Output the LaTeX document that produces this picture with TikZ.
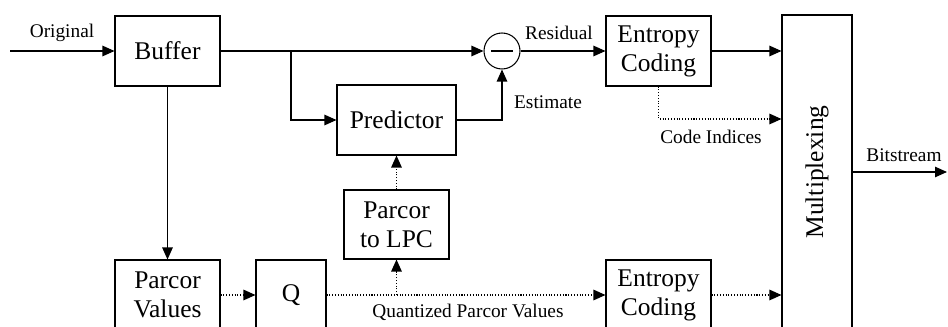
\documentclass[tikz,border=0pt]{standalone}
\usepackage{fontspec}
\setmainfont{Liberation Serif}
\usetikzlibrary{arrows.meta, positioning, calc}

\tikzset{
  block/.style={draw, line width=0.6pt, minimum width=2.1cm, minimum height=1.4cm,
    align=center, font=\fontsize{14.5}{16.5}\selectfont, inner sep=1pt},
  lbl/.style={font=\fontsize{11}{13}\selectfont, inner sep=2pt},
  arr/.style={-{Triangle[length=2.4mm, width=2.1mm]}, line width=0.6pt},
  dots/.style={densely dotted, line width=0.7pt}
}

\begin{document}
\begin{tikzpicture}[x=0.02cm, y=-0.02cm]
  \useasboundingbox (0,0) rectangle (948,327);
  \clip (0,0) rectangle (948,327);
  % Blocks
  \node[block] (buffer) at (167.5,51) {Buffer};
  \node[block, minimum width=2.38cm] (predictor) at (396.5,120) {Predictor};
  \node[draw, circle, line width=0.6pt, minimum size=0.72cm, inner sep=0pt] (sub) at (502,51) {};
  \draw[line width=0.8pt] ($(sub.center)+(-11,0)$) -- ($(sub.center)+(11,0)$);
  \node[block] (ec1) at (658.5,51) {Entropy\\Coding};
  \node[block, minimum width=1.4cm, minimum height=6.28cm] (mux) at (817,172)
       {\rotatebox{90}{Multiplexing}};
  \node[block] (parcor) at (167.5,295) {Parcor\\Values};
  \node[block, minimum width=1.4cm] (quant) at (291,295) {Q};
  \node[block, minimum height=1.38cm] (p2lpc) at (396.5,224.5) {Parcor\\to LPC};
  \node[block] (ec2) at (658.5,295) {Entropy\\Coding};
  % Helper points
  \coordinate (in) at (10,51);
  \coordinate (split) at (291,51);
  \coordinate (ciy) at (0,119);
  \coordinate (out) at (947,172);
  % Labels
  \node[lbl] (orig) at (62,33) {Original};
  \node[lbl] (res) at (559,33) {Residual};
  \node[lbl] (est) at (548,102) {Estimate};
  \node[lbl] (codes) at (711,137) {Code Indices};
  \node[lbl] (bits) at (904,155) {Bitstream};
  \node[lbl] (qpv) at (468,312) {Quantized Parcor Values};
  % Signal path
  \draw[arr] (in) -- (buffer.west);
  \draw[arr] (buffer.east) -- (sub.west);
  \draw[arr] (split) |- (predictor.west);
  \draw[arr] (predictor.east) -| (sub.south);
  \draw[arr] (sub.east) -- (ec1.west);
  \draw[arr] (ec1.east) -- (ec1.east -| mux.west);
  \draw[arr, dots] (ec1.south) |- (mux.west |- ciy);
  \draw[arr] (mux.east |- out) -- (out);
  % Parameter path
  \draw[arr] (buffer.south) -- (parcor.north);
  \draw[arr, dots] (parcor.east) -- (quant.west);
  \draw[arr, dots] (quant.east) -- (ec2.west);
  \coordinate (qsplit) at (p2lpc.south |- quant.east);
  \draw[arr, dots] (qsplit) -- (p2lpc.south);
  \draw[arr, dots] (p2lpc.north) -- (predictor.south);
  \draw[arr, dots] (ec2.east) -- (ec2.east -| mux.west);
\end{tikzpicture}
\end{document}
